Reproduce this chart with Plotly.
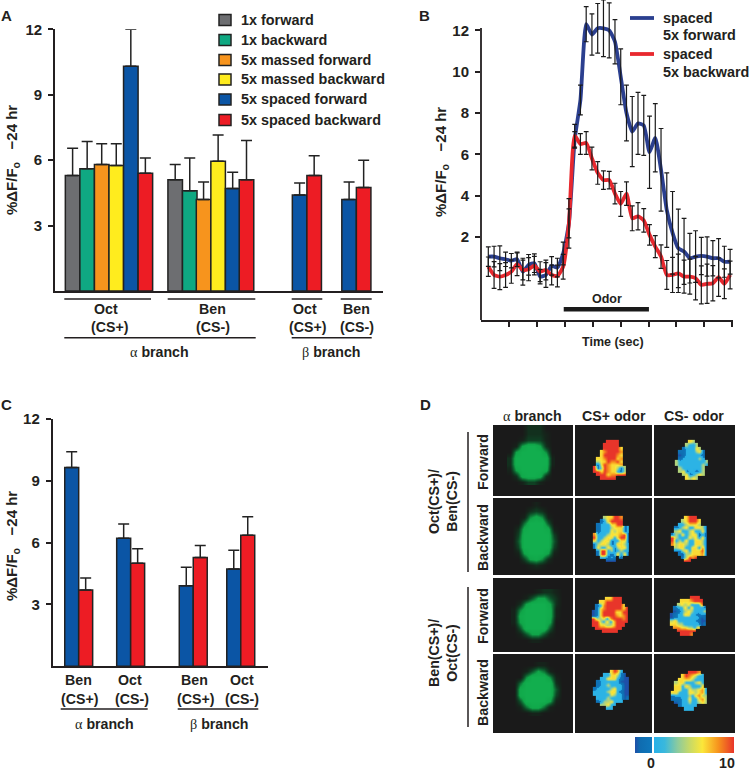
import plotly.graph_objects as go

W, H = 750, 776
def X(p): return p / W
def Y(p): return 1 - p / H

FONT = "Liberation Sans"
INK = "#231f20"
COL = dict(grey="#6d6e71", green="#0fa882", orange="#f7941d", yellow="#ffec1e", blue="#0b55a5", red="#ed1c24")

# ---------- Panel A data
a_1x_fwd = [5.3, 5.1]
a_1x_fwd_top = [6.55, 5.8]
a_1x_bwd = [5.6, 4.6]
a_1x_bwd_top = [6.85, 6.1]
a_mass_fwd = [5.8, 4.2]
a_mass_fwd_top = [6.75, 5.0]
a_mass_bwd = [5.75, 5.95]
a_mass_bwd_top = [6.75, 7.15]
a_spaced_fwd = [10.3, 4.7, 4.4, 4.2]
a_spaced_fwd_top = [12.0, 5.45, 4.95, 5.0]
a_spaced_bwd = [5.4, 5.1, 5.3, 4.75]
a_spaced_bwd_top = [6.1, 6.9, 6.2, 6.0]
legend_labels = ["1x forward", "1x backward", "5x massed forward", "5x massed backward", "5x spaced forward", "5x spaced backward"]

# ---------- Panel B data
b_blue = [1.05, 1.05, 0.97, 0.92, 0.85, 0.92, 0.32, 0.65, 0.73, 0.08, 0.16, 0.6, 0.52, 1.2, 2.66, 6.7, 8.63,
          12.3, 11.8, 12.1, 12.1, 12.0, 11.45, 9.75, 8.0, 7.1, 7.5, 7.4, 6.1, 6.8, 5.25, 3.3, 2.2, 1.45, 1.3,
          0.97, 1.05, 1.08, 1.05, 0.97, 0.97, 0.8, 0.8]
b_blue_err = [0.47, 0.5, 0.6, 0.35, 0.35, 0.35, 0.65, 0.5, 0.45, 0.35, 0.6, 0.45, 0.45, 0.55, 1.2, 0.4, 0.72,
              0.85, 1.0, 1.2, 1.37, 1.33, 1.07, 1.35, 1.35, 1.7, 1.5, 1.45, 1.75, 1.65, 2.0, 1.8, 2.0, 1.9, 1.6,
              1.2, 1.25, 0.9, 0.95, 0.85, 0.95, 0.75, 0.6]
b_red = [0.56, 0.16, 0.08, 0.16, 0.32, 0.68, 0.4, 0.44, 0.61, 0.32, 0.4, 0.16, 0.11, 0.56, 2.66, 6.9, 6.5, 6.55,
         5.8, 5.1, 4.75, 4.75, 4.1, 3.6, 4.1, 2.9, 3.0, 2.8, 2.1, 1.53, 1.05, 0.16, 0.16, 0.24, 0.08, 0.08, 0.0,
         -0.32, -0.27, -0.24, 0.05, -0.27, 0.16]
b_red_err = [0.47, 0.65, 0.63, 0.6, 0.56, 0.55, 0.48, 0.56, 0.45, 0.48, 0.48, 0.48, 0.53, 0.6, 0.7, 0.55, 0.5,
             0.55, 0.55, 0.55, 0.45, 0.42, 0.5, 0.6, 0.57, 0.6, 0.66, 0.57, 0.5, 0.53, 0.57, 0.7, 0.85, 0.93, 0.8,
             0.85, 1.05, 0.92, 0.95, 0.85, 0.93, 0.72, 0.67]
b_time = list(range(len(b_blue)))
b_odor_span = [13.1, 27.9]
b_odor_level = [-1.5, -1.5]

# ---------- Panel C data
c_fwd = [9.64, 6.2, 3.9, 4.72]
c_fwd_top = [10.4, 6.9, 4.8, 5.62]
c_bwd = [3.7, 5.0, 5.27, 6.35]
c_bwd_top = [4.28, 5.7, 5.86, 7.25]

# ---------- Panel D data: colour-coded response levels (0 = lowest ... 6 = highest)
levels_z = [-2.2, -0.8, 0.5, 4, 6.4, 8.2, 10]
r1_plus = ["....6666...", "...66666...", "...666664..", "..4566665..", "..4666654..", ".44566645..",
           ".34465564..", ".14654445..", "6136544313.", "6646544213.", ".666455666.", "..66666...."]
r1_minus = ["....43....", "...3223...", "..122243..", ".11222341.", ".01222221.", ".12222232.",
            "3222222223", "3222222232", ".32222223.", ".34122123.", "..3412343.", "...4343..."]
r2_plus = ["...344665..", "..1246666..", ".12224466..", ".1222344412", ".1222434412", "52223444561",
           "62234424661", "42344122441", "13443124432", "14224313442", ".1662312322", ".1662124241",
           "..22121.1..", "....000...."]
r2_minus = ["....4666..", "...346664.", "..2234443.", ".1234224431", ".3422342241", "13242344121",
            "63222434241", "62324224431", "53443224431", ".3442244251", ".1134244461", "..103344451",
            "...13656..", "....66...."]
r3_plus = ["....44666..", "..4466666..", ".125666664.", ".1456666646", "01466664466", "01466665456",
           "63342566656", "66324246666", "6644334666.", ".66666666..", "...66666..."]
r3_minus = ["......666.", "...4445666", "..34342225", ".1224242221", ".0123432223", "01224422121",
            "01222222201", "34222222100", "44332222201", ".55443324..", "..666666..", "...6665..."]
r4_plus = [".....4652...", "...2244310..", "..224442100.", ".1222222000.", ".1223222200.", "12222342200.",
           "22223442100.", "22222432200.", ".2223222201.", ".12334222...", "..33422.....", "....22......"]
r4_minus = [".....6665..", "...4654322.", "..44443222.", ".344222342.", ".442432224.", ".4422433452",
            "44222443452", "12222324533", "11122422453", ".0122322343", "..122222...", "....222...."]
heat_blobs = [r1_plus, r1_minus, r2_plus, r2_minus, r3_plus, r3_minus, r4_plus, r4_minus]
heat_origin = [(595, 442), (677, 442), (595, 518), (673, 518), (594, 599), (672, 598), (595, 672), (673, 673)]

g1 = [[0,0,0,2,2,2,0,0],[0,0,0,2,2,2,1,0],[0,0,1,3,3,3,1,0],[0,1,7,9,9,7,2,0],[0,7,9,9,9,9,6,0],
      [2,9,9,9,9,9,9,1],[2,9,9,9,9,9,9,1],[1,7,9,9,9,9,8,0],[0,2,8,9,9,8,2,0],[0,0,1,3,3,1,0,0]]
g2 = [[0,0,0,0,1,0,0,0,0],[0,0,0,2,3,2,0,0,0],[0,0,1,6,8,6,1,0,0],[0,0,5,9,9,9,4,0,0],[0,2,8,9,9,9,8,1,0],
      [0,3,9,9,9,9,9,3,0],[0,4,9,9,9,9,9,4,0],[0,3,9,9,9,9,9,3,0],[0,1,7,9,9,9,7,1,0],[0,0,3,7,8,6,2,0,0],
      [0,0,0,1,2,1,0,0,0],[0,0,0,0,0,0,0,0,0]]
g3 = [[0,0,0,0,1,2,2,1,0],[0,0,1,4,7,7,4,2,0],[0,2,7,9,9,9,7,2,0],[1,6,9,9,9,9,8,1,0],[1,8,9,9,9,9,8,1,0],
      [1,7,9,9,9,9,7,0,0],[0,4,9,9,9,9,4,0,0],[0,1,4,7,7,4,1,0,0],[0,0,0,1,1,0,0,0,0]]
g4 = [[0,0,0,0,1,1,0,0,0],[0,0,1,4,7,5,1,0,0],[0,0,6,9,9,9,6,1,0],[0,5,9,9,9,9,9,2,0],[0,8,9,9,9,9,9,4,0],
      [0,8,9,9,9,9,9,3,0],[0,4,9,9,9,9,7,1,0],[0,1,5,8,8,5,1,0,0],[0,0,0,1,1,0,0,0,0]]
green_blobs = [g1, g2, g3, g4]
green_origin = [(510, 428), (512, 505), (514, 592), (514, 665)]

fig = go.Figure()

# ---------- bars
def bars(x, y, top, color, ax):
    fig.add_trace(go.Bar(
        x=x, y=y, width=1, marker=dict(color=color, line=dict(color="#222222", width=1.5)),
        error_y=dict(type="data", symmetric=False, array=[t - v for t, v in zip(top, y)], arrayminus=[0] * len(y),
                     color="#222222", thickness=1.5, width=5.5),
        xaxis="x" + ax, yaxis="y" + ax, showlegend=False, cliponaxis=False))

a_slots = [[0, 7.05], [1, 8.05], [2, 9.0], [3, 10.0], [4, 11.0, 15.6, 19.0], [5, 11.95, 16.6, 20.0]]
a_series = [(a_1x_fwd, a_1x_fwd_top, "grey"), (a_1x_bwd, a_1x_bwd_top, "green"), (a_mass_fwd, a_mass_fwd_top, "orange"),
            (a_mass_bwd, a_mass_bwd_top, "yellow"), (a_spaced_fwd, a_spaced_fwd_top, "blue"), (a_spaced_bwd, a_spaced_bwd_top, "red")]
for slot, (v, t, c) in zip(a_slots, a_series):
    bars(slot, v, t, COL[c], "")

c_slots_f = [0, 3.72, 8.2, 11.6]
c_slots_b = [1, 4.72, 9.2, 12.6]
bars(c_slots_f, c_fwd, c_fwd_top, COL["blue"], "3")
bars(c_slots_b, c_bwd, c_bwd_top, COL["red"], "3")

# ---------- lines (panel B)
for y, c in ((b_blue, "#2b3f8f"), (b_red, "#e8282e")):
    fig.add_trace(go.Scatter(x=b_time, y=y, mode="lines", line=dict(color=c, width=3.8, shape="spline", smoothing=0.5),
                             xaxis="x2", yaxis="y2", showlegend=False))
for y, e in ((b_blue, b_blue_err), (b_red, b_red_err)):
    fig.add_trace(go.Scatter(x=b_time, y=y, mode="markers", marker=dict(size=1, opacity=0),
                             error_y=dict(type="data", array=e, color="#1a1a1a", thickness=1.2, width=2.4),
                             xaxis="x2", yaxis="y2", showlegend=False))
fig.add_trace(go.Scatter(x=b_odor_span, y=b_odor_level, mode="lines", line=dict(color="#1a1a1a", width=4.5),
                         xaxis="x2", yaxis="y2", showlegend=False))

# ---------- panel D images
for g, (x0, y0) in zip(green_blobs, green_origin):
    fig.add_trace(go.Heatmap(z=g, x0=x0, dx=6, y0=y0, dy=6, zmin=0, zmax=9, zsmooth="best", showscale=False,
                             colorscale=[[0, "#1a1a1a"], [0.15, "#15261b"], [0.35, "#0e4224"], [0.55, "#0e6b33"], [0.78, "#10a548"], [1, "#12ae4e"]],
                             xaxis="x4", yaxis="y4", hoverinfo="skip"))

def decode(rows):
    width = max(len(r) for r in rows)
    return [[levels_z[int(ch)] if ch != "." else None for ch in r.ljust(width, ".")] for r in rows]

for rows, (x0, y0) in zip(heat_blobs, heat_origin):
    fig.add_trace(go.Heatmap(z=decode(rows), x0=x0 - 0.5, dx=3.3, y0=y0 - 0.5, dy=3.3, coloraxis="coloraxis", zsmooth="best",
                             xaxis="x4", yaxis="y4", hoverinfo="skip"))

# ---------- shapes and text
shapes, anns = [], []
def hline(x0, x1, y, w=1.5):
    shapes.append(dict(type="line", xref="paper", yref="paper", x0=X(x0), x1=X(x1), y0=Y(y), y1=Y(y), line=dict(color=INK, width=w)))
def vline(x, y0, y1, w=1.5):
    shapes.append(dict(type="line", xref="paper", yref="paper", x0=X(x), x1=X(x), y0=Y(y0), y1=Y(y1), line=dict(color=INK, width=w)))
def rect(x0, y0, x1, y1, fill, line=None):
    shapes.append(dict(type="rect", xref="paper", yref="paper", x0=X(x0), x1=X(x1), y0=Y(y0), y1=Y(y1), fillcolor=fill,
                       layer="below", line=dict(color=line or fill, width=1.5 if line else 0)))
def text(t, x, y, size=14.2, angle=0, anchor="center"):
    anns.append(dict(text=t, x=X(x), y=Y(y), xref="paper", yref="paper", showarrow=False, xanchor=anchor, yanchor="middle",
                     textangle=angle, align="center", font=dict(family=FONT, size=size, color=INK, weight="bold")))

ALPHA = '<span style="font-family:Liberation Serif;font-weight:normal">α</span> branch'
BETA = '<span style="font-family:Liberation Serif;font-weight:normal">β</span> branch'
YT = "%ΔF/F<sub>o</sub>\u00a0\u00a0\u00a0−24 hr"

for t, x, y in (("A", 6, 15), ("B", 424, 15), ("C", 6, 404), ("D", 425, 404)):
    text(t, x, y, 15)

# panel A furniture
text(YT, 13, 160, 15, -90)
for i, (lab, c) in enumerate(zip(legend_labels, ["grey", "green", "orange", "yellow", "blue", "red"])):
    yc = [20, 40, 60, 79.5, 99.5, 120][i]
    rect(219, yc - 5.5, 231, yc + 5.5, COL[c], "#222222")
    text(lab, 238.5, yc, 14.4, anchor="left")
for a, b in ((64.3, 151), (167.7, 255.3), (291.7, 322.3), (340.7, 371.7)):
    hline(a, b, 299)
for a, b in ((64.3, 255.7), (291.7, 371.7)):
    hline(a, b, 337.7)
for t, x, y in (("Oct", 106, 309), ("(CS+)", 109.5, 327), ("Ben", 212.5, 309), ("(CS-)", 212.5, 327),
                ("Oct", 305, 309), ("(CS+)", 308, 327), ("Ben", 356.5, 309), ("(CS-)", 356.5, 327)):
    text(t, x, y)
text(ALPHA, 159.5, 352)
text(BETA, 331, 352)

# panel B furniture
vline(481, 28, 320, 1.8)
text(YT, 441, 162, 15, -90)
text("Odor", 607, 299, 12.5)
text("Time (sec)", 613, 342, 12.5)
for yc, t1, t2 in ((18, "spaced", "5x forward"), (54, "spaced", "5x backward")):
    shapes.append(dict(type="line", xref="paper", yref="paper", x0=X(630), x1=X(654), y0=Y(yc), y1=Y(yc),
                       line=dict(color="#2b3f8f" if yc == 18 else "#e8282e", width=3.8)))
    text(t1, 661, yc, 14.4, anchor="left")
    text(t2, 661, yc + 17.5, 14.4, anchor="left")

# panel C furniture
text(YT, 12, 546, 15, -90)
for t, x, y in (("Ben", 78, 680), ("(CS+)", 80, 698.5), ("Oct", 130, 680), ("(CS-)", 131.5, 698.5),
                ("Ben", 194.5, 680), ("(CS+)", 196, 698.5), ("Oct", 241.5, 680), ("(CS-)", 242.5, 698.5)):
    text(t, x, y)
hline(60.7, 147.7, 709)
hline(177.7, 258.3, 709)
text(ALPHA, 104.5, 723.5)
text(BETA, 218.5, 723.5)

# panel D furniture
cols = [(493, 573), (575, 652), (654, 735)]
rows_px = [(425, 496), (498, 575), (578, 652), (654, 733)]
for a, b in cols:
    for c, d in rows_px:
        rect(a, c, b, d, "#1a1a1a")
for t, x in ((ALPHA, 532), ("CS+ odor", 614), ("CS- odor", 694)):
    text(t, x, 416)
for t, y in (("Forward", 462), ("Backward", 538), ("Forward", 616), ("Backward", 693)):
    text(t, 483, y, 14.2, -90)
text("Oct(CS+)/<br>Ben(CS-)", 443, 502, 14.2, -90)
text("Ben(CS+)/<br>Oct(CS-)", 443, 653, 14.2, -90)
vline(468, 432, 572)
vline(468, 587, 727)
text("0", 651, 763)
text("10", 727, 763)

# ---------- axes
def yax(d0, d1, rng, ticks, anchor, show=True):
    return dict(domain=[Y(d0), Y(d1)], range=rng, tickvals=ticks, anchor=anchor, showline=show, linecolor=INK, linewidth=1.8,
                ticks="outside", ticklen=5, tickwidth=1.5, tickcolor=INK, showgrid=False, zeroline=False,
                tickfont=dict(family=FONT, size=15, color=INK, weight="bold"), ticklabelstandoff=3)
def xax(d0, d1, rng, anchor, **kw):
    base = dict(domain=[X(d0), X(d1)], range=rng, anchor=anchor, showline=True, linecolor=INK, linewidth=1.8,
                showgrid=False, zeroline=False, showticklabels=False, ticks="")
    base.update(kw)
    return base

b_ticks = [3.58 + 4.85 * k for k in range(9)]
fig.update_layout(
    width=W, height=H, autosize=False, margin=dict(l=0, r=0, t=0, b=0, pad=0, autoexpand=False),
    paper_bgcolor="white", plot_bgcolor="rgba(0,0,0,0)", barmode="overlay",
    xaxis=xax(55, 383, [-1.21, 21.33], "y"),
    yaxis=yax(291, 29.3, [0, 12], [3, 6, 9, 12], "x"),
    xaxis2=xax(481, 733, [-1.27, 42.5], "y2", ticks="outside", tickvals=b_ticks, ticklen=5, tickwidth=1.5, tickcolor=INK),
    yaxis2=yax(320, 0, [-2.02, 13.47], [2, 4, 6, 8, 10, 12], "x2", show=False),
    xaxis3=xax(52.7, 268, [-1.36, 14.05], "y3"),
    yaxis3=yax(666.3, 418.7, [0, 12], [3, 6, 9, 12], "x3"),
    xaxis4=dict(domain=[X(493), X(735)], range=[493, 735], visible=False, anchor="y4"),
    yaxis4=dict(domain=[Y(733), Y(425)], range=[733, 425], visible=False, anchor="x4"),
    coloraxis=dict(cmin=-2.2, cmax=10,
                   colorscale=[[0, "#1f4fa8"], [0.05, "#0f6cb0"], [0.176, "#0f78bc"], [0.18, "#25b0ea"], [0.3, "#3ab8dc"],
                               [0.43, "#8ccb9e"], [0.55, "#c6d968"], [0.68, "#fbe73a"], [0.84, "#f7941d"], [1, "#e8352a"]],
                   colorbar=dict(orientation="h", x=X(635), y=Y(769), xanchor="left", yanchor="bottom", thickness=16,
                                 len=99, lenmode="pixels", outlinewidth=0, xpad=0, ypad=0, tickvals=[0],
                                 showticklabels=False, ticks="inside", ticklen=16, tickwidth=1.5, tickcolor="white")),
    shapes=shapes, annotations=anns,
)

fig.write_html("out.html", config={"displayModeBar": False}, post_script="document.body.style.margin='0';")
